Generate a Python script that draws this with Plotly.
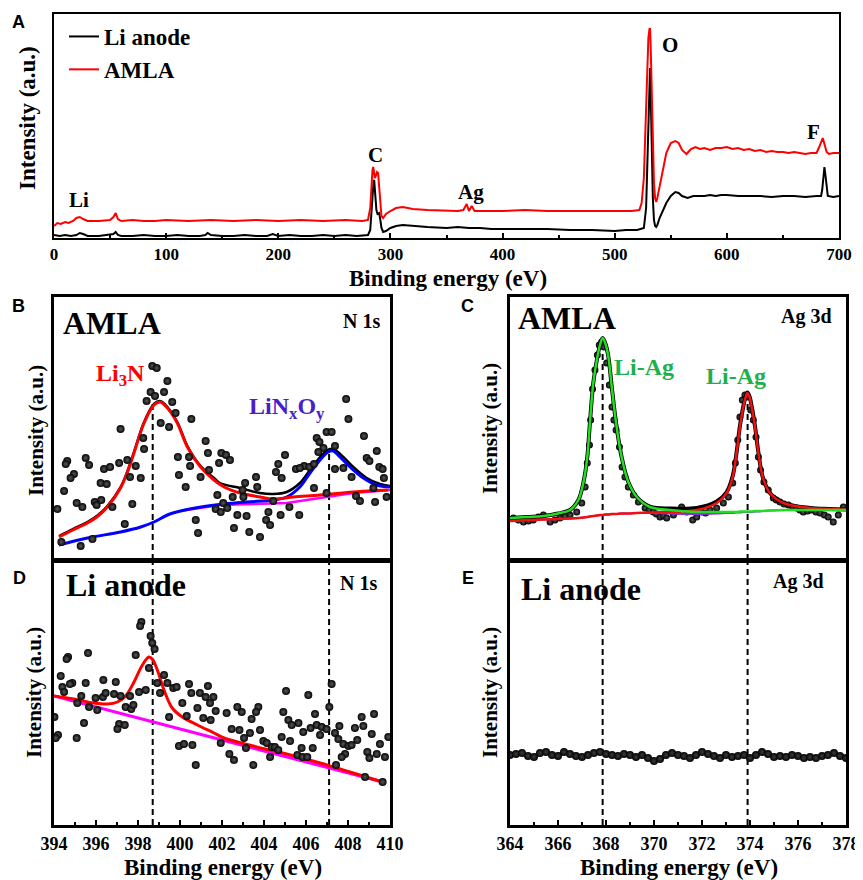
import plotly.graph_objects as go

SERIF = "Liberation Serif"
SANS = "Liberation Sans"

# ---------------- Panel A: survey spectra ----------------
A_ticks = [0, 100, 200, 300, 400, 500, 600, 700]
A_black_x = [0,5,10,15,20,23,26,30,40,50,53,55,57,60,70,80,90,100,110,120,130,135,137,140,150,160,170,180,190,195,
             200,210,220,230,240,250,260,270,280,282,283,284,285,285.5,286.5,287.5,288.5,290,291,292,293.5,296,300,305,311,320,333,350,360,370,
             380,390,400,420,440,460,480,500,510,520,526,528,529,530,531,531.5,532,533,534,535,536,537,538,540,543,546,550,554,557,560,
             565,570,575,580,585,590,595,600,610,620,630,640,650,660,670,680,684,685,686,687,688,689,690,695,700]
A_black_y = [3,2,3,2,3,5,4,2,2,3,4,6,3,2,2,3,2,2,3,2,2,3,5,3,2,2,3,2,2,4,
             2,3,2,2,3,2,3,2,3,8,25,45,57,58,45,28,24,25,18,10,6,7,10,12,13,12,11,10,11,10,
             10,9,9,9,9,8,8,7,8,8,10,30,75,130,168,170,150,90,40,18,12,11,13,20,28,35,42,46,45,42,
             40,42,42,42,43,42,43,43,42,42,42,41,42,42,41,42,42,48,60,71,62,48,42,41,42]
A_red_x = [0,3,6,10,13,17,20,23,26,30,40,50,53,55,57,60,70,80,90,100,120,140,160,180,200,220,240,260,275,280,
           282,283,284,284.7,285.5,286.1,287,288,289,290,291,292,293.5,296,300,305,311,320,333,350,
           360,365,368,370,372.5,375,380,400,420,440,460,480,500,515,522,524,526,527,528,529,
           530,531,531.5,532,533,534,535,536,537,538,540,543,546,550,554,557,560,564,568,572,
           576,580,585,590,595,600,605,610,615,620,625,630,635,640,645,650,655,660,665,670,
           675,680,682,684,685.5,687,689,691,695,700]
A_red_y = [12,15,14,16,15,17,20,21,19,17,17,18,21,25,19,17,18,17,17,18,17,18,17,18,17,18,17,18,17,18,
           30,55,68,71,66,60,62,66,65,50,32,22,20,24,27,30,31,29,28,27,
           27,28,34,27,32,27,27,27,28,27,27,27,27,27,28,35,60,95,140,180,
           200,209,209,195,150,95,55,40,36,40,52,70,85,95,97,95,88,84,89,91,
           89,90,88,90,90,91,89,90,88,89,87,88,86,87,86,86,85,86,85,84,
           85,85,90,97,100,94,86,84,85,85]
A_labels = ["Li", "C", "Ag", "O", "F"]
A_label_x = [22, 287, 372, 549, 677]
A_label_y = [38, 83, 46, 193, 106]

# ---------------- Panel B: AMLA N 1s ----------------
BD_ticks = [394, 396, 398, 400, 402, 404, 406, 408, 410]
B_points = [(398.68,194),(398.89,192),(399.40,179),(398.60,168),(398.81,164),(398.41,159),(399.24,168),(399.63,158),
            (399.79,147),(399.08,137),(399.48,133),(400.54,141),(397.17,131),(398.25,122),(398.29,111),(401.22,119),
            (401.33,107),(401.97,107),(394.63,99),(394.56,96),(395.51,102),(395.67,95),(396.38,91),(396.67,93),
            (397.10,97),(397.49,100),(397.89,94),(399.90,103),(400.43,103),(400.48,94),(401.38,90),(401.86,97),
            (394.95,86),(394.79,82),(396.22,77),(396.51,76),(397.62,83),(398.13,82),(399.95,85),(400.98,83),
            (394.48,69),(400.27,73),(395.08,57),(395.35,53),(395.94,58),(396.03,55),(396.25,60),(396.78,53),
            (397.73,56),(394.16,51),(401.78,65),(401.70,51),(401.94,48),(397.37,36),(400.86,27),(400.75,40),
            (394.35,18),(395.27,14),(395.83,21),
            (407.91,161),(408.02,141),(408.76,124),(406.98,128),(407.22,128),(406.51,122),(406.64,118),(406.83,112),
            (406.59,108),(407.38,114),(409.37,109),(408.89,102),(409.02,99),(405.00,105),(409.49,93),(409.65,91),
            (404.68,96),(405.91,94),(406.16,93),(406.38,96),(405.52,91),(405.71,92),(404.57,88),(404.84,82),
            (403.62,83),(407.78,92),(408.17,83),(407.38,91),(402.19,105),(402.38,100),(403.10,77),(402.98,70),
            (403.68,73),(406.38,72),(409.71,82),(409.21,72),(402.51,63),(403.02,63),(402.06,57),(402.25,52),
            (404.44,59),(405.21,53),(406.98,67),(408.38,64),(408.57,59),(409.29,58),(409.84,63),(402.73,45),
            (403.17,44),(404.21,48),(404.10,40),(404.29,35),(404.79,45),(405.68,45),(402.57,32),(403.30,28),(403.81,23)]
B_red_x = [394.24,394.9,395.59,396.1,396.54,397.17,397.5,397.81,398.29,398.76,399.05,399.4,399.87,400.35,400.98,
           401.62,402.1,402.86,403.81,404.44,405.4,406.67,408.25,409.9]
B_red_y = [23,30,37,44,53,72,88,107,137,155,158,152,137,113,93,80,73,67,63,61,63,65,68,70]
B_env_x = [394.24,394.9,395.59,396.1,396.54,397.17,397.5,397.81,398.29,398.76,399.05,399.4,399.87,400.35,400.98,
           401.62,401.9,402.86,403.81,404.44,405.08,405.71,406.19,406.67,407.14,407.38,407.78,408.25,408.89,409.52,410.0]
B_env_y = [24,31,38,45,54,73,89,108,138,156,159,153,138,114,94,82,77,72,67,66,68,77,90,103,111,110,103,93,82,76,74]
B_blue_x = [394.24,395.59,397.17,398.13,398.76,399.4,400.03,401.0,402.1,403.17,404.44,405.08,405.71,406.19,406.67,
            407.06,407.3,407.62,408.1,408.73,409.37,410.0]
B_blue_y = [15,22,28,33,38,45,49,53,56,58,60,63,73,87,100,108,109,103,93,82,75,73]
B_bg_x = [400.0,401.9,403.49,405.08,406.67,408.25,410.0]
B_bg_y = [49,55,56,57,62,67,70]
B_peaks = [398.7, 407.1]
B_peak_h = [157, 110]

# ---------------- Panel C: AMLA Ag 3d ----------------
CE_ticks = [364, 366, 368, 370, 372, 374, 376, 378]
C_points = [(364.14,42),(364.35,40),(364.56,38),(364.77,39),(364.97,40),(365.18,43),(365.39,45),(365.67,38),(365.87,40),
            (366.08,42),(366.3,44),(366.5,45),(366.78,48),(366.99,57),(367.13,73),(367.22,97),(367.31,115),(367.36,140),
            (367.44,171),(367.54,190),(367.64,205),(367.72,215),(367.82,218),(367.92,213),(368.03,197),(368.14,175),
            (368.25,153),(368.33,140),(368.42,130),(368.56,113),(368.67,93),(368.79,83),(368.93,73),(369.14,65),
            (369.35,58),(369.63,52),(369.8,50),(369.97,48),(370.1,46),(370.25,43),(370.4,44),(370.53,42),(370.81,45),
            (371.0,49),(371.15,53),(371.36,48),(371.61,40),(371.78,43),(371.99,48),(372.15,47),(372.33,50),(372.61,52),
            (372.89,57),(373.1,63),(373.28,77),(373.39,97),(373.49,120),(373.58,143),(373.68,160),(373.79,165),
            (373.9,163),(374.03,150),(374.14,140),(374.25,123),(374.35,103),(374.44,90),(374.58,78),(374.76,70),
            (374.97,62),(375.1,60),(375.25,58),(375.42,56),(375.6,55),(375.78,53),(375.94,52),(376.08,50),(376.22,48),
            (376.4,49),(376.57,50),(376.75,48),(376.92,47),(377.1,45),(377.26,43),(377.47,38),(377.68,45),(377.89,53)]
C_fit_x = [364.0,364.7,365.4,366.0,366.5,366.85,367.08,367.22,367.33,367.47,367.64,367.76,367.86,367.98,368.1,
           368.24,368.42,368.65,368.93,369.28,369.83,370.67,371.78,372.61,373.03,373.28,373.44,373.58,373.72,373.82,
           373.89,373.98,374.07,374.21,374.35,374.53,374.83,375.39,376.5,377.3,378.0]
C_bg_y = [39,40,40.5,41,41.5,42,42.5,43,43.5,44,44.5,45,45,45.5,45.5,46,46,46.5,46.5,47,47,46.5,46,46.5,47,
          47,47.5,47.5,48,48,48,48,48,48.5,48.5,49,49.5,50,50,50,50]
C_green_y = [42,43,44,46.5,50,60,80,103,137,177,203,216,222,216,203,173,137,103,78,63,53,50,48,48,48,
             48,48,48.5,48.5,48.5,48.5,48.5,48.5,49,49,49,49.5,50,50,50,50]
C_red_y = [39,40,40.5,41,41.5,42,42.5,43,43.5,44,44.5,45,45,45.5,45.5,46,46,46.5,46.5,47,47.5,48,50,57,67,
           83,107,133,153,163,167,163,153,133,107,83,67,57,52,51,50.5]
C_env_y = [42,43,44,46.5,50,60,80,103,137,177,203,216,222,216,203,173,137,103,78,63,53.5,51.5,52,58.5,68,
           84,107.5,134,153.5,163.5,167.5,163.5,153.5,133.5,107.5,83,67,57,52,51,50.5]
C_peaks = [367.86, 373.9]
C_peak_h = [222, 167]

# ---------------- Panel D: Li anode N 1s ----------------
D_points = [(398.16,203),(398.10,199),(398.60,189),(398.68,182),(398.79,176),(394.67,168),(394.60,166),(395.62,172),
            (397.89,170),(398.52,157),(394.32,149),(394.87,142),(394.76,141),(395.51,142),(396.35,145),(396.94,143),
            (394.40,138),(394.48,133),(395.30,129),(395.98,127),(396.33,128),(396.46,132),(396.86,131),(397.17,129),
            (397.62,129),(398.05,133),(398.37,135),(398.92,142),(399.24,150),(399.40,142),(399.68,137),(399.84,138),
            (399.05,132),(400.43,141),(400.54,132),(400.95,132),(401.33,139),(401.22,128),(401.59,128),(400.11,122),
            (401.43,122),(395.11,122),(395.67,118),(396.06,115),(397.41,118),(397.68,116),(397.78,120),(400.83,117),
            (401.70,114),(399.48,108),(400.32,109),(401.11,107),(401.46,105),(395.43,102),(397.10,101),(397.37,100),
            (397.02,96),(394.19,90),(394.08,87),(395.08,87),(399.95,79),(400.19,81),(400.59,80),(400.75,60),
            (401.94,82),(394.02,108),
            (407.22,141),(405.05,134),(406.11,130),(407.11,118),(402.73,118),(402.22,112),(402.94,113),(403.73,118),
            (403.62,113),(404.92,113),(406.43,111),(408.65,108),(409.24,111),(403.41,106),(405.16,105),(405.64,102),
            (405.32,100),(406.22,97),(406.51,100),(406.75,98),(406.98,96),(407.59,99),(408.33,97),(408.73,99),
            (402.46,96),(402.83,95),(403.33,92),(403.81,95),(405.87,93),(406.67,90),(407.38,92),(409.13,91),
            (409.92,88),(403.05,87),(404.84,88),(405.24,84),(403.97,84),(404.13,82),(407.54,86),(408.44,85),
            (407.78,81),(408.02,79),(408.17,80),(409.52,81),(404.37,78),(404.52,78),(404.68,75),(403.14,77),
            (404.29,68),(402.35,71),(402.57,65),(405.59,70),(405.84,68),(406.06,68),(405.79,77),(406.32,77),
            (407.86,71),(407.70,68),(408.92,73),(409.37,71),(409.02,67),(409.76,68),(403.49,60),(407.43,60),
            (408.81,48),(409.65,43)]
D_red_x = [394.0,394.95,395.9,396.54,397.02,397.41,397.81,398.21,398.52,398.68,398.92,399.24,399.63,400.11,400.83,
           401.62,402.1,403.49,405.08,406.67,408.25,409.65]
D_red_y = [129,126,122,121,123,129,143,160,168,166,155,135,117,108,100,92,87,79,71,62,52,43]
D_bg_x = [394.0, 409.65]
D_bg_y = [129, 43]

# ---------------- Panel E: Li anode Ag 3d ----------------
E_x = [364.0,364.25,364.5,364.75,365.0,365.25,365.5,365.75,366.0,366.25,366.5,366.75,367.0,367.25,367.5,367.75,
       368.0,368.25,368.5,368.75,369.0,369.25,369.5,369.75,370.0,370.25,370.5,370.75,371.0,371.25,371.5,371.75,
       372.0,372.25,372.5,372.75,373.0,373.25,373.5,373.75,374.0,374.25,374.5,374.75,375.0,375.25,375.5,375.75,
       376.0,376.25,376.5,376.75,377.0,377.25,377.5,377.75,378.0]
E_y = [70,71,72,69,68,72,73,70,69,73,71,69,68,70,72,73,71,70,69,71,70,68,70,67,64,66,70,72,70,69,67,70,
       73,71,69,67,70,68,69,70,67,70,73,71,68,69,68,70,69,67,68,67,69,70,72,69,67]

# ---------------- geometry ----------------
# The page places the figure 8 px in from the top-left corner, so layout
# positions (given in window pixels) are shifted by that offset.
W, H = 863, 880
OFF = 8
def px(x):
    return (x - OFF) / W
def py(y):
    return 1 - (y - OFF) / H

fig = go.Figure()

def sphere(size, hi="#5a5a5a"):
    return dict(color="#030303", size=size, line=dict(width=0),
                gradient=dict(type="radial", color=hi))

# Panel A
fig.add_trace(go.Scatter(x=A_black_x, y=A_black_y, mode="lines", name="Li anode",
                         line=dict(color="black", width=2), xaxis="x", yaxis="y"))
fig.add_trace(go.Scatter(x=A_red_x, y=A_red_y, mode="lines", name="AMLA",
                         line=dict(color="#ff0000", width=2), xaxis="x", yaxis="y"))

# Panel B
fig.add_trace(go.Scatter(x=B_bg_x, y=B_bg_y, mode="lines", line=dict(color="#ff00ff", width=2.5),
                         xaxis="x2", yaxis="y2", showlegend=False))
fig.add_trace(go.Scatter(x=B_env_x, y=B_env_y, mode="lines", line=dict(color="black", width=2.5, shape="spline"),
                         xaxis="x2", yaxis="y2", showlegend=False))
fig.add_trace(go.Scatter(x=B_blue_x, y=B_blue_y, mode="lines", line=dict(color="#0000ff", width=3, shape="spline"),
                         xaxis="x2", yaxis="y2", showlegend=False))
fig.add_trace(go.Scatter(x=B_red_x, y=B_red_y, mode="lines", line=dict(color="#ff0000", width=3, shape="spline"),
                         xaxis="x2", yaxis="y2", showlegend=False))
fig.add_trace(go.Scatter(x=[p[0] for p in B_points], y=[p[1] for p in B_points], mode="markers",
                         marker=sphere(8), xaxis="x2", yaxis="y2", showlegend=False))

# Panel C
fig.add_trace(go.Scatter(x=[p[0] for p in C_points], y=[p[1] for p in C_points], mode="markers",
                         marker=sphere(7), xaxis="x3", yaxis="y3", showlegend=False))
fig.add_trace(go.Scatter(x=C_fit_x, y=C_bg_y, mode="lines", line=dict(color="#8a2be2", width=2, shape="spline"),
                         xaxis="x3", yaxis="y3", showlegend=False))
fig.add_trace(go.Scatter(x=C_fit_x, y=C_env_y, mode="lines", line=dict(color="black", width=4, shape="spline"),
                         xaxis="x3", yaxis="y3", showlegend=False))
fig.add_trace(go.Scatter(x=C_fit_x, y=C_red_y, mode="lines", line=dict(color="#ee1111", width=2.5, shape="spline"),
                         xaxis="x3", yaxis="y3", showlegend=False))
fig.add_trace(go.Scatter(x=C_fit_x, y=C_green_y, mode="lines", line=dict(color="#22dd22", width=2.5, shape="spline"),
                         xaxis="x3", yaxis="y3", showlegend=False))

# Panel D
fig.add_trace(go.Scatter(x=D_bg_x, y=D_bg_y, mode="lines", line=dict(color="#ff00ff", width=3),
                         xaxis="x4", yaxis="y4", showlegend=False))
fig.add_trace(go.Scatter(x=D_red_x, y=D_red_y, mode="lines", line=dict(color="#ff0000", width=3, shape="spline"),
                         xaxis="x4", yaxis="y4", showlegend=False))
fig.add_trace(go.Scatter(x=[p[0] for p in D_points], y=[p[1] for p in D_points], mode="markers",
                         marker=sphere(8), xaxis="x4", yaxis="y4", showlegend=False))

# Panel E
fig.add_trace(go.Scatter(x=E_x, y=E_y, mode="lines+markers", line=dict(color="#000", width=4),
                         marker=sphere(8, "#3c3c3c"), xaxis="x5", yaxis="y5", showlegend=False))

# ---------------- axes ----------------
tickfont = dict(family=SERIF, size=18, color="black", weight="bold")
def xax(domain, rng, anchor, tickvals=None, minor_dtick=None, width=3):
    d = dict(domain=domain, range=rng, anchor=anchor, showline=True, linecolor="black", linewidth=width,
             mirror=True, showgrid=False, zeroline=False, tickfont=tickfont, automargin=False)
    if tickvals is None:
        d.update(showticklabels=False, ticks="")
    else:
        d.update(tickvals=tickvals, ticks="inside", ticklen=5, tickwidth=2, tickcolor="black",
                 minor=dict(ticks="inside", ticklen=3, tickwidth=1.5, dtick=minor_dtick, tickcolor="black"))
    return d
def yax(domain, rng, anchor, width=3):
    return dict(domain=domain, range=rng, anchor=anchor, showline=True, linecolor="black", linewidth=width,
                mirror=True, showgrid=False, zeroline=False, showticklabels=False, ticks="", automargin=False)

colL = [px(54), px(390)]
colR = [px(510), px(846)]
rowB = [py(560), py(297)]
rowD = [py(825), py(561)]

xa = xax([px(54), px(839)], [0, 700], "y", A_ticks, 50, width=2)
xa["tickfont"] = dict(family=SERIF, size=17, color="black", weight="bold")

fig.update_layout(
    width=W, height=H, autosize=False,
    margin=dict(l=0, r=0, t=0, b=0, pad=0, autoexpand=False),
    paper_bgcolor="white", plot_bgcolor="white",
    xaxis=xa,
    yaxis=yax([py(238), py(14)], [0, 224], "x", width=2),
    xaxis2=xax(colL, [394, 410], "y2"),
    yaxis2=yax(rowB, [0, 263], "x2"),
    xaxis3=xax(colR, [364, 378], "y3"),
    yaxis3=yax(rowB, [0, 263], "x3"),
    xaxis4=xax(colL, [394, 410], "y4", BD_ticks, 1),
    yaxis4=yax(rowD, [0, 264], "x4"),
    xaxis5=xax(colR, [364, 378], "y5", CE_ticks, 1),
    yaxis5=yax(rowD, [0, 264], "x5"),
    legend=dict(x=px(64), y=py(15), xanchor="left", yanchor="top", bgcolor="rgba(0,0,0,0)",
                font=dict(family=SERIF, size=23, color="black", weight="bold"),
                tracegroupgap=0, itemwidth=30),
    showlegend=True,
)

# ---------------- dashed reference lines ----------------
dash = "6px,4px"
shapes = []
for xv, hv in zip(B_peaks, B_peak_h):
    shapes.append(dict(type="line", xref="x2", yref="y2", x0=xv, x1=xv, y0=0, y1=hv,
                       line=dict(color="black", width=2, dash=dash), layer="below"))
    shapes.append(dict(type="line", xref="x4", yref="y4 domain", x0=xv, x1=xv, y0=0, y1=1,
                       line=dict(color="black", width=2, dash=dash), layer="below"))
for xv, hv in zip(C_peaks, C_peak_h):
    shapes.append(dict(type="line", xref="x3", yref="y3", x0=xv, x1=xv, y0=0, y1=hv,
                       line=dict(color="black", width=2, dash=dash), layer="below"))
    shapes.append(dict(type="line", xref="x5", yref="y5 domain", x0=xv, x1=xv, y0=0, y1=1,
                       line=dict(color="black", width=2, dash=dash), layer="below"))
fig.update_layout(shapes=shapes)

# ---------------- annotations ----------------
ann = []
def txt(text, x, y, size, color="black", family=SERIF, angle=0):
    ann.append(dict(text=text, x=px(x), y=py(y), xref="paper", yref="paper", showarrow=False,
                    xanchor="center", yanchor="middle", textangle=angle,
                    font=dict(family=family, size=size, color=color, weight="bold")))

for t, xv, yv in zip(A_labels, A_label_x, A_label_y):
    ann.append(dict(text=t, x=xv, y=yv, xref="x", yref="y", showarrow=False, xanchor="center", yanchor="middle",
                    font=dict(family=SERIF, size=21, color="black", weight="bold")))

txt("A", 18, 22, 18, family=SANS)
txt("B", 18, 306, 18, family=SANS)
txt("C", 468, 306, 18, family=SANS)
txt("D", 19, 578, 18, family=SANS)
txt("E", 468, 578, 18, family=SANS)

txt("Intensity (a.u.)", 27, 118, 23, angle=-90)
txt("Binding energy (eV)", 448, 278, 23)
txt("Intensity (a.u.)", 36, 431, 21, angle=-90)
txt("Intensity (a.u.)", 34, 693, 21, angle=-90)
txt("Intensity (a.u.)", 490, 429, 21, angle=-90)
txt("Intensity (a.u.)", 490, 693, 21, angle=-90)
txt("Binding energy (eV)", 223, 867, 23)
txt("Binding energy (eV)", 679, 867, 23)

txt("AMLA", 112, 323, 32)
txt("N 1s", 361, 321, 20)
txt("Li<sub>3</sub>N", 121, 375, 24, color="#ff0000")
txt("LiN<sub>x</sub>O<sub>y</sub>", 287, 408, 24, color="#4a1ec8")
txt("AMLA", 567, 318, 32)
txt("Ag 3d", 806, 317, 20)
txt("Li-Ag", 644, 367, 24, color="#20b04b")
txt("Li-Ag", 736, 376, 24, color="#20b04b")
txt("Li anode", 126, 585, 32)
txt("N 1s", 358, 583, 20)
txt("Li anode", 581, 589, 32)
txt("Ag 3d", 798, 581, 20)

fig.update_layout(annotations=ann)

fig.write_html("out.html")
